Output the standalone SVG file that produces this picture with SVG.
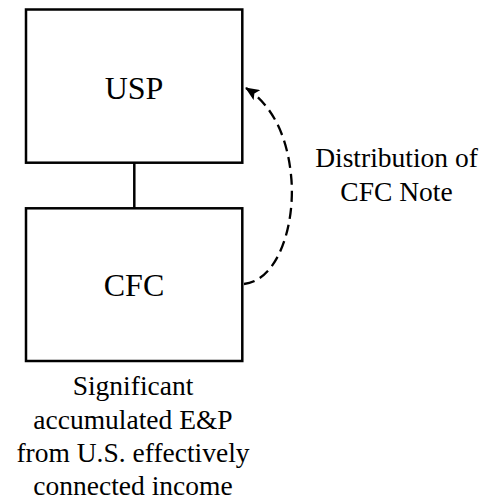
<svg xmlns="http://www.w3.org/2000/svg" width="485" height="500" viewBox="0 0 485 500">
<style>
.box{fill:#fff;stroke:#000;stroke-width:2.5}
.t{font-family:"Liberation Serif","Times New Roman",serif;fill:#000;text-anchor:middle}
.big{font-size:32px}
.lbl{font-size:27.5px}
</style>
<defs>
<marker id="ah" markerWidth="14" markerHeight="12" refX="13" refY="6" orient="auto" markerUnits="userSpaceOnUse">
<path d="M0,0 L14,6 L0,12 L3,6 Z" fill="#000"/>
</marker>
</defs>
<rect width="485" height="500" fill="#fff"/>
<g id="connectors">
<line x1="134.3" y1="163" x2="134.3" y2="208" stroke="#000" stroke-width="2.5"/>
<path d="M244,284 C280,280 296,220 291,175 C287,135 272,105 246,88" fill="none" stroke="#000" stroke-width="2.3" stroke-dasharray="11,6" marker-end="url(#ah)"/>
</g>
<g id="USP">
<rect class="box" x="26" y="9.5" width="216.3" height="153.2"/>
<text class="t big" x="134" y="99">USP</text>
</g>
<g id="CFC">
<rect class="box" x="26" y="208.3" width="216.3" height="152.7"/>
<text class="t big" x="134" y="296">CFC</text>
</g>
<g id="label-distribution">
<text class="t lbl" x="396.5" y="167">Distribution of</text>
<text class="t lbl" x="396.5" y="201">CFC Note</text>
</g>
<g id="label-ep">
<text class="t lbl" x="133" y="395">Significant</text>
<text class="t lbl" x="133" y="428.5">accumulated E&amp;P</text>
<text class="t lbl" x="133" y="462">from U.S. effectively</text>
<text class="t lbl" x="133" y="495">connected income</text>
</g>
</svg>
